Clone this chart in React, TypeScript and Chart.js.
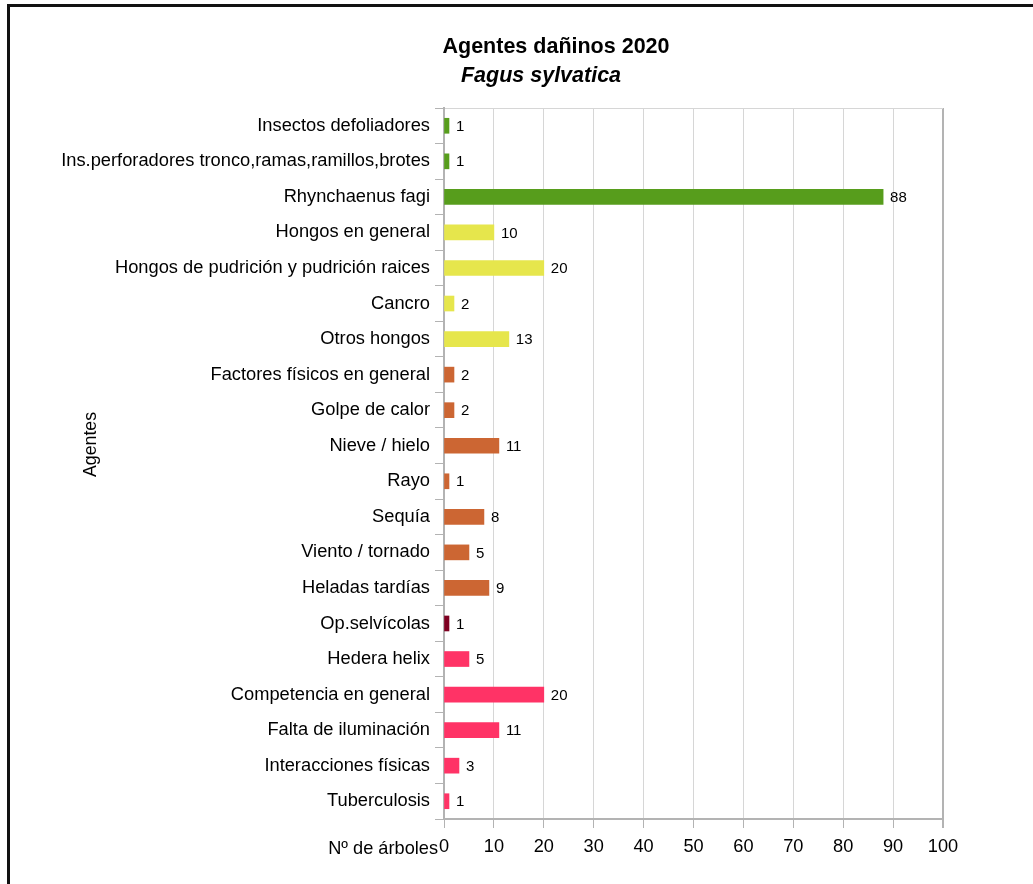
import React, { useEffect, useRef } from "react";
import { Chart, registerables } from "chart.js";

Chart.register(...registerables);

const categories = [
  "Insectos defoliadores",
  "Ins.perforadores tronco,ramas,ramillos,brotes",
  "Rhynchaenus fagi",
  "Hongos en general",
  "Hongos de pudrición y pudrición raices",
  "Cancro",
  "Otros hongos",
  "Factores físicos en general",
  "Golpe de calor",
  "Nieve / hielo",
  "Rayo",
  "Sequía",
  "Viento / tornado",
  "Heladas tardías",
  "Op.selvícolas",
  "Hedera helix",
  "Competencia en general",
  "Falta de iluminación",
  "Interacciones físicas",
  "Tuberculosis",
];

const values = [1, 1, 88, 10, 20, 2, 13, 2, 2, 11, 1, 8, 5, 9, 1, 5, 20, 11, 3, 1];

const groups = [0, 0, 0, 1, 1, 1, 1, 2, 2, 2, 2, 2, 2, 2, 3, 4, 4, 4, 4, 4];

const groupColors = ["#579d1c", "#e6e64c", "#cc6633", "#7e0021", "#ff3366"];

const xTicks = [0, 10, 20, 30, 40, 50, 60, 70, 80, 90, 100];

const titleText = "Agentes dañinos 2020";
const subtitleText = "Fagus sylvatica";
const yTitle = "Agentes";
const xTitle = "Nº de árboles";

const FONT = "'Liberation Sans', Arial, sans-serif";

export default function App() {
  const ref = useRef<HTMLCanvasElement | null>(null);

  useEffect(() => {
    if (!ref.current) return;
    const labelPlugin = {
      id: "decor",
      afterDatasetsDraw(chart: any) {
        const ctx = chart.ctx;
        const meta = chart.getDatasetMeta(0);
        ctx.save();
        ctx.fillStyle = "#000";
        ctx.font = `15px ${FONT}`;
        ctx.textAlign = "left";
        ctx.textBaseline = "middle";
        meta.data.forEach((bar: any, i: number) => {
          ctx.fillText(String(values[i]), bar.x + 7, bar.y + 1);
        });
        ctx.restore();
      },
      afterDraw(chart: any) {
        const ctx = chart.ctx;
        const area = chart.chartArea;
        ctx.save();
        ctx.fillStyle = "#000";
        ctx.textAlign = "center";
        ctx.textBaseline = "alphabetic";
        ctx.font = `bold 21.5px ${FONT}`;
        ctx.fillText(titleText, area.left + 112, 53);
        ctx.font = `italic bold 21.5px ${FONT}`;
        ctx.fillText(subtitleText, area.left + 97, 82);
        // y axis title
        ctx.save();
        ctx.translate(91, (area.top + area.bottom) / 2 - 19);
        ctx.rotate(-Math.PI / 2);
        ctx.font = `17.8px ${FONT}`;
        ctx.textBaseline = "middle";
        ctx.fillText(yTitle, 0, 0);
        ctx.restore();
        // x axis title
        const xs = chart.scales.x;
        ctx.font = `18.2px ${FONT}`;
        ctx.textAlign = "right";
        ctx.textBaseline = "middle";
        ctx.fillText(xTitle, area.left - 6, xs.bottom - 35);
        ctx.restore();
      },
    };

    const chart = new Chart(ref.current, {
      type: "bar",
      data: {
        labels: categories,
        datasets: [
          {
            data: values,
            backgroundColor: values.map((_, i) => groupColors[groups[i]]),
            barThickness: 15,
          },
        ],
      },
      options: {
        indexAxis: "y",
        animation: false,
        responsive: false,
        devicePixelRatio: 1,
        layout: { padding: { top: 108, right: 90, left: 0, bottom: 0 } },
        plugins: {
          legend: { display: false },
          tooltip: { enabled: false },
          title: { display: false },
        },
        scales: {
          x: {
            min: 0,
            max: 100,
            afterFit(scale: any) {
              scale.height = 65;
            },
            afterBuildTicks(scale: any) {
              scale.ticks = xTicks.map((v) => ({ value: v }));
            },
            grid: {
              color: (c: any) => (c.index === xTicks.length - 1 ? "#b3b3b3" : "#d6d6d6"),
              lineWidth: (c: any) => (c.index === xTicks.length - 1 ? 2 : 1),
              tickColor: "#b3b3b3",
              tickLength: 9,
              drawTicks: true,
            },
            border: { color: "#b3b3b3", width: 2 },
            ticks: {
              color: "#000",
              font: { family: FONT, size: 18.2 },
              padding: 8,
              maxRotation: 0,
            },
          },
          y: {
            afterFit(scale: any) {
              scale.width = 444;
            },
            grid: {
              offset: true,
              color: (c: any) => (c.index === 0 ? "#d6d6d6" : "rgba(0,0,0,0)"),
              tickColor: "#b3b3b3",
              tickLength: 9,
              drawTicks: true,
            },
            border: { color: "#b3b3b3", width: 2 },
            ticks: {
              color: "#000",
              font: { family: FONT, size: 18.3 },
              padding: 5,
              autoSkip: false,
            },
          },
        },
      },
      plugins: [labelPlugin],
    });
    return () => chart.destroy();
  }, []);

  return (
    <div
      style={{
        position: "fixed",
        left: 0,
        top: 0,
        width: 1033,
        height: 884,
        background: "#fff",
        overflow: "hidden",
      }}
    >
      <canvas ref={ref} width={1033} height={884} style={{ position: "absolute", left: 0, top: 0 }} />
      <div
        style={{
          position: "absolute",
          left: 7,
          top: 4,
          width: 1200,
          height: 1000,
          borderLeft: "3px solid #111",
          borderTop: "3px solid #111",
          pointerEvents: "none",
        }}
      />
    </div>
  );
}
